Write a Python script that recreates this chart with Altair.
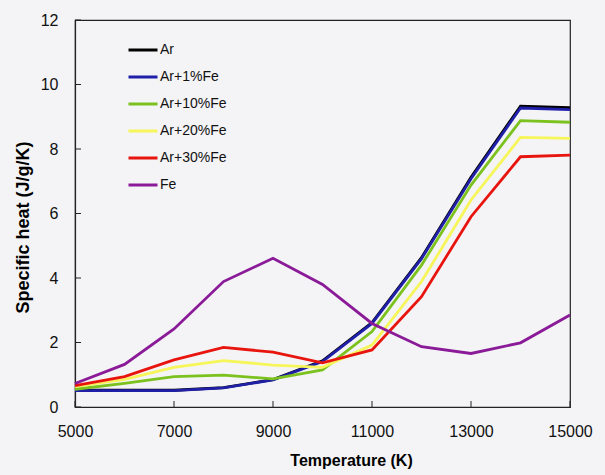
import altair as alt
import pandas as pd

temps = [5000, 6000, 7000, 8000, 9000, 10000, 11000, 12000, 13000, 14000, 15000]
series_names = ["Ar", "Ar+1%Fe", "Ar+10%Fe", "Ar+20%Fe", "Ar+30%Fe", "Fe"]
ar      = [0.52, 0.52, 0.52, 0.60, 0.85, 1.43, 2.62, 4.63, 7.12, 9.33, 9.28]
ar1fe   = [0.51, 0.51, 0.51, 0.59, 0.84, 1.41, 2.59, 4.60, 7.08, 9.27, 9.22]
ar10fe  = [0.55, 0.73, 0.94, 0.99, 0.87, 1.15, 2.34, 4.40, 6.88, 8.88, 8.83]
ar20fe  = [0.63, 0.86, 1.23, 1.44, 1.30, 1.23, 1.92, 3.89, 6.42, 8.36, 8.33]
ar30fe  = [0.66, 0.94, 1.46, 1.85, 1.70, 1.37, 1.77, 3.42, 5.90, 7.76, 7.81]
fe      = [0.73, 1.32, 2.42, 3.89, 4.61, 3.80, 2.59, 1.87, 1.66, 1.99, 2.85]
colors = ["#000000", "#1f1fa8", "#7cc21e", "#f6f55a", "#e8140e", "#8a1a98"]
x_ticks = [5000, 7000, 9000, 11000, 13000, 15000]
y_ticks = [0, 2, 4, 6, 8, 10, 12]

rows = []
for name, vals in zip(series_names, [ar, ar1fe, ar10fe, ar20fe, ar30fe, fe]):
    for t, v in zip(temps, vals):
        rows.append({"T": t, "cp": v, "series": name, "order": series_names.index(name)})
df = pd.DataFrame(rows)

W, H = 495, 387
FONT = "Liberation Sans"

xenc = alt.X("T:Q", scale=alt.Scale(domain=[5000, 15000], nice=False),
             axis=alt.Axis(values=x_ticks, format="d", ticks=False, grid=False,
                           labelFlush=False, labelPadding=16, labelFontSize=16,
                           title="Temperature (K)", titleFontSize=16,
                           titleX=276, titleY=45))
yenc = alt.Y("cp:Q", scale=alt.Scale(domain=[0, 12], nice=False),
             axis=alt.Axis(values=y_ticks, format="d", ticks=False, grid=False,
                           labelFlush=False, labelPadding=17, labelFontSize=16,
                           title="Specific heat (J/g/K)", titleFontSize=18,
                           titleX=-43, titleY=207))

lines = alt.Chart(df).mark_line(strokeWidth=2.8).encode(
    x=xenc, y=yenc,
    color=alt.Color("series:N", scale=alt.Scale(domain=series_names, range=colors),
                    legend=alt.Legend(title=None, orient="none", legendX=52, legendY=14,
                                      symbolType="stroke", symbolSize=841,
                                      symbolStrokeWidth=3, labelFontSize=14,
                                      labelFont=FONT, labelOffset=1, rowPadding=4,
                                      padding=0, labelColor="#111111")),
    order="order:Q",
    detail="series:N",
)

ydf = pd.DataFrame({"cp": y_ticks})
xdf = pd.DataFrame({"T": x_ticks})
ytick_layer = alt.Chart(ydf).mark_rule(color="#222222", strokeWidth=1).encode(
    y=yenc, x=alt.value(0), x2=alt.value(6))
xtick_layer = alt.Chart(xdf).mark_rule(color="#222222", strokeWidth=1).encode(
    x=xenc, y=alt.value(H), y2=alt.value(H - 6))

chart = alt.layer(lines, ytick_layer, xtick_layer).properties(
    width=W, height=H,
    background="#f4f4f6",
    padding={"left": 75, "top": 20, "right": 35, "bottom": 68},
    autosize=alt.AutoSizeParams(type="none"),
).configure_view(
    stroke="#222222", strokeWidth=1.2
).configure_axis(
    labelFont=FONT, titleFont=FONT,
    titleFontWeight="bold", labelColor="#111111", titleColor="#000000",
    domainColor="#222222", domainWidth=1.2,
)

chart.save("out.html", embed_options={"renderer": "svg", "actions": False})
